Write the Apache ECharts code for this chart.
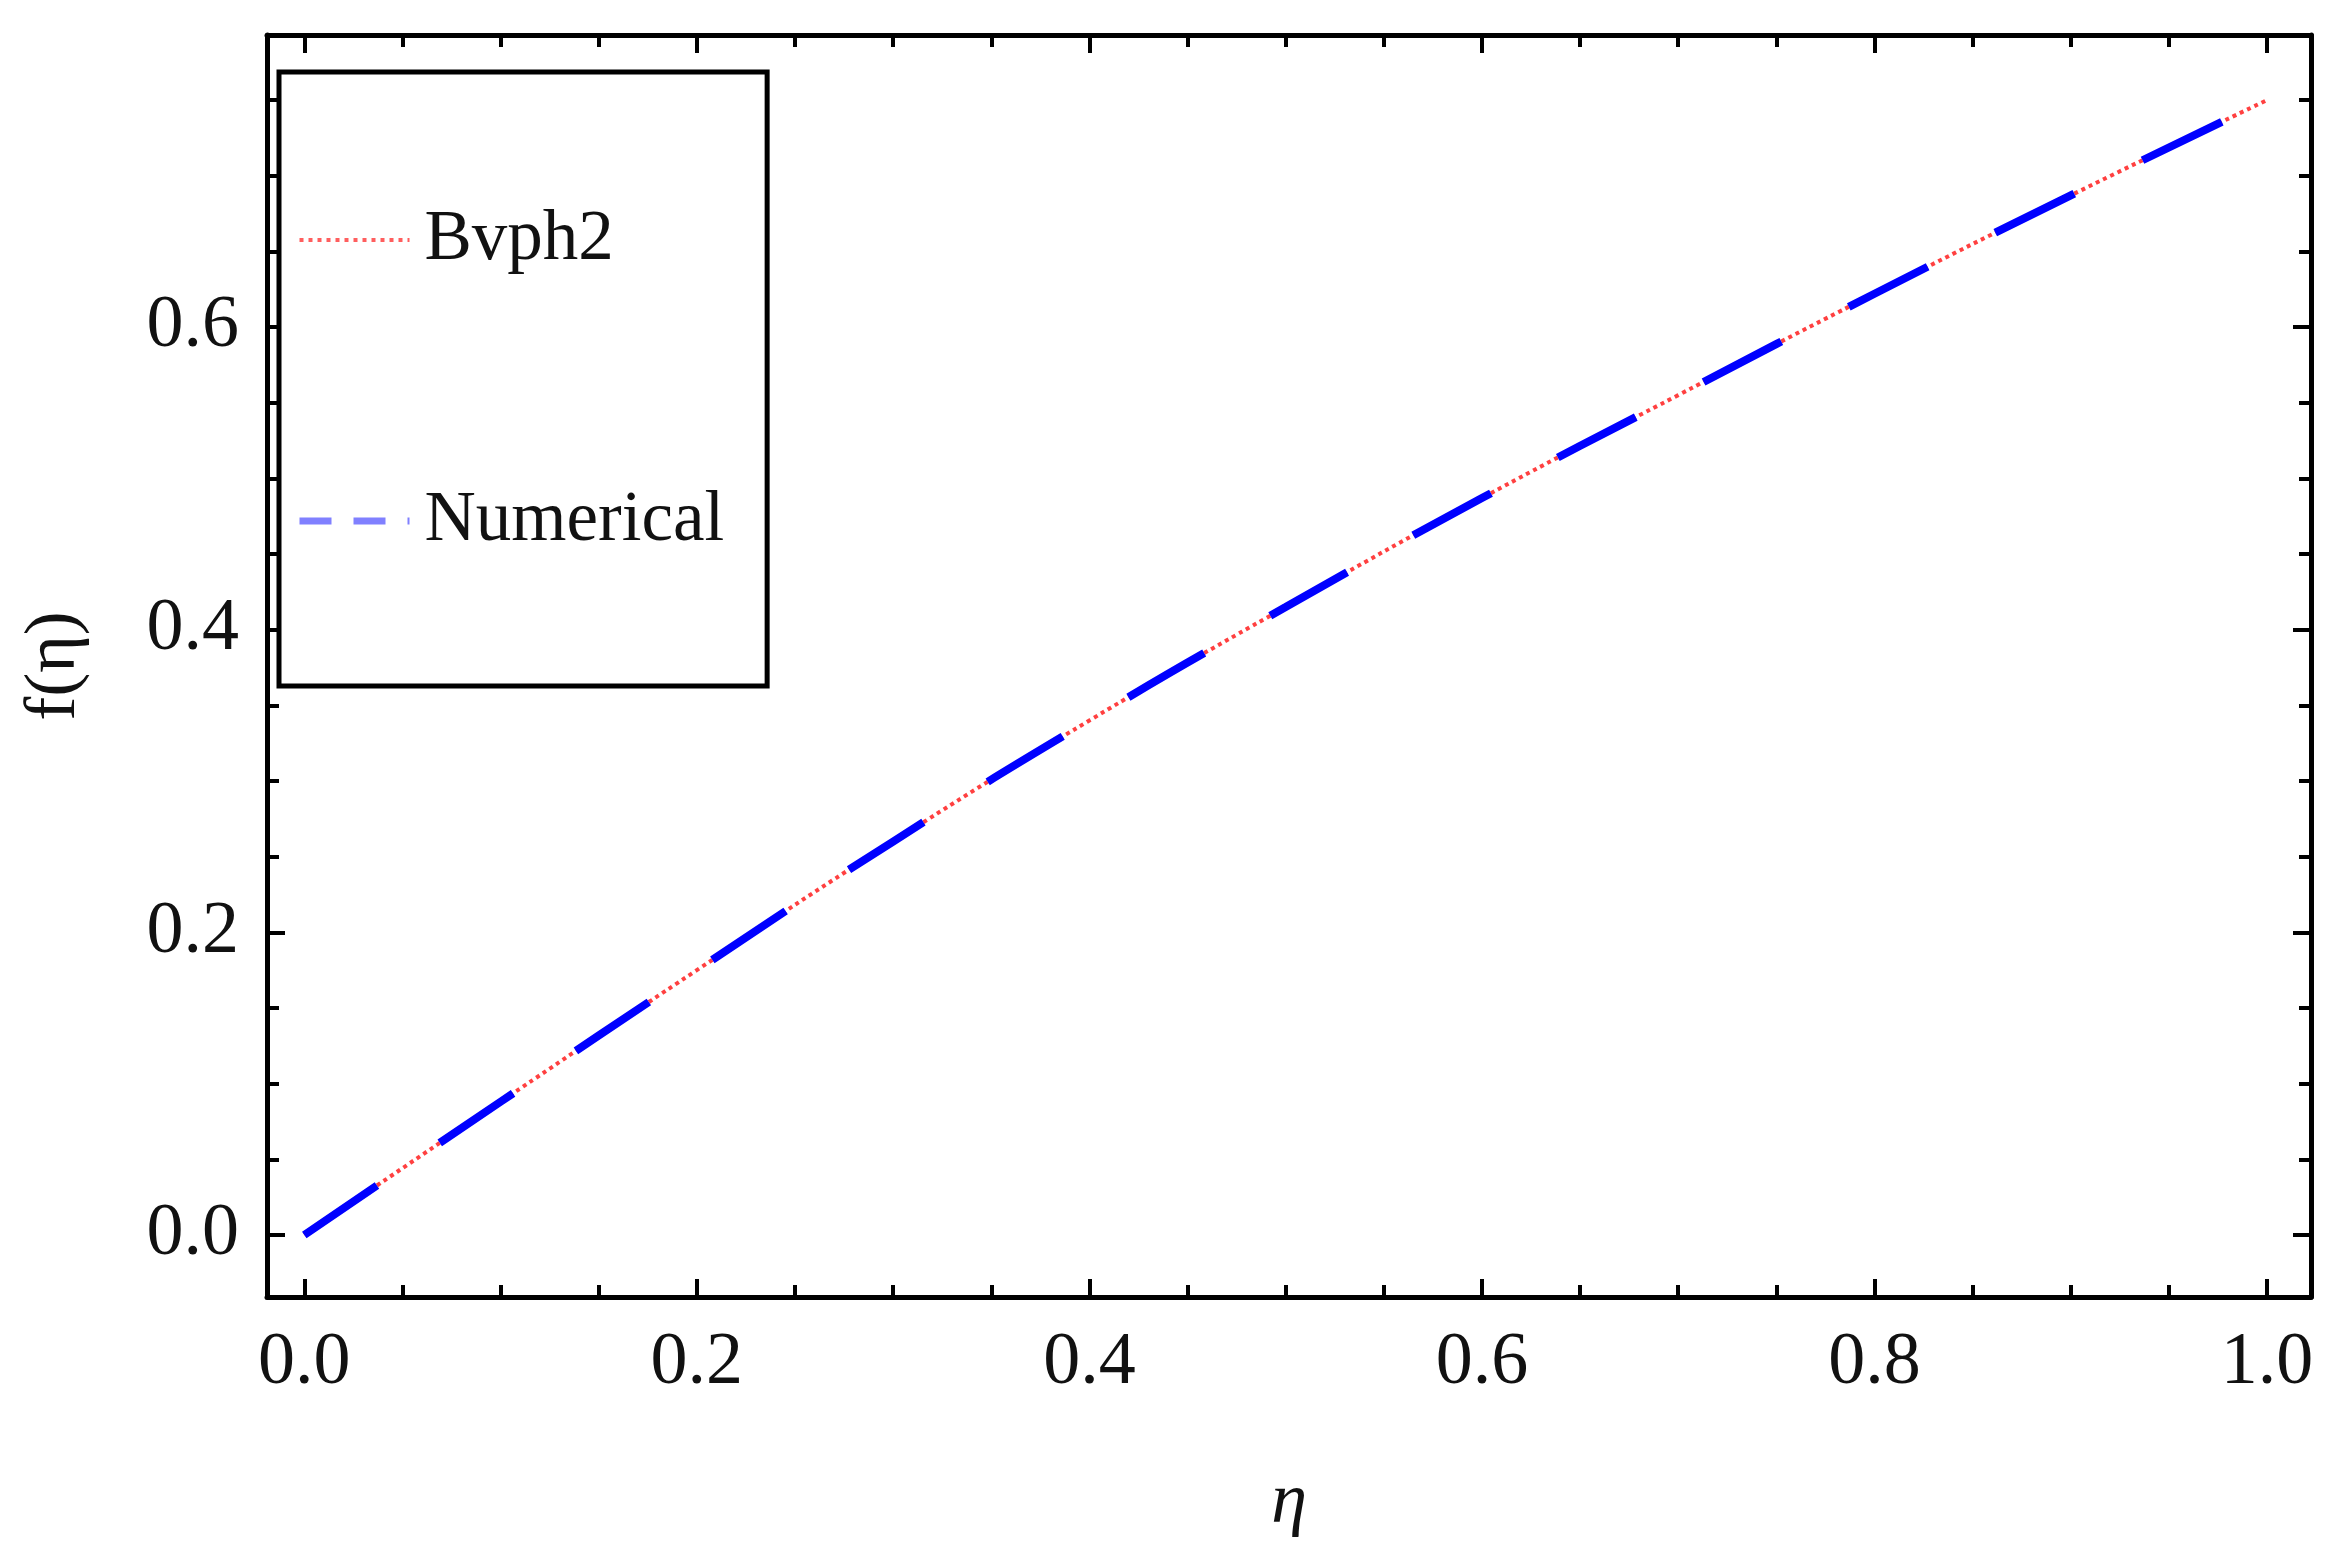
<!DOCTYPE html>
<html>
<head>
<meta charset="utf-8">
<script src="https://cdn.jsdelivr.net/npm/echarts@6/dist/echarts.min.js"></script>
<style>
html,body{margin:0;padding:0;background:#fff;}
#chart{width:2351px;height:1568px;}
</style>
</head>
<body>
<div id="chart"></div>
<script>
// ---- data ----
const eta = [0, 0.1, 0.2, 0.3, 0.4, 0.5, 0.6, 0.7, 0.8, 0.9, 1.0];
const bvph2 = [0, 0.088, 0.175, 0.260, 0.340, 0.415, 0.487, 0.555, 0.622, 0.687, 0.750];
const numerical = [0, 0.088, 0.175, 0.260, 0.340, 0.415, 0.487, 0.555, 0.622, 0.687, 0.750];
const xMajorTicks = [0.0, 0.2, 0.4, 0.6, 0.8, 1.0];
const xMinorTicks = [0.05, 0.1, 0.15, 0.25, 0.3, 0.35, 0.45, 0.5, 0.55, 0.65, 0.7, 0.75, 0.85, 0.9, 0.95];
const yMajorTicks = [0.0, 0.2, 0.4, 0.6];
const yMinorTicks = [0.05, 0.1, 0.15, 0.25, 0.3, 0.35, 0.45, 0.5, 0.55, 0.65, 0.7, 0.75];
const seriesNames = ['Bvph2', 'Numerical'];
const xTitle = 'η';
const yTitle = 'f(η)';

const FONT = 'Liberation Serif';
const X_MIN = -0.019, X_MAX = 1.0224;
const Y_MIN = -0.041, Y_MAX = 0.793;

function pairs(xs, ys) { return xs.map((x, i) => [x, ys[i]]); }

function xAxisDef(pos, ticks, len, withLabels, withLine) {
  return {
    type: 'value', position: pos, min: X_MIN, max: X_MAX,
    splitLine: { show: false },
    axisLine: { show: withLine, onZero: false, lineStyle: { color: '#000', width: 5 } },
    axisTick: { show: true, inside: true, length: len, customValues: ticks,
                lineStyle: { color: '#000', width: 4 } },
    axisLabel: { show: withLabels, customValues: ticks, margin: 30,
                 formatter: v => v.toFixed(1),
                 fontFamily: FONT, fontSize: 74, color: '#111' },
    name: withLabels ? xTitle : '',
    nameLocation: 'middle', nameGap: 170,
    nameTextStyle: { fontFamily: FONT, fontSize: 72, fontStyle: 'italic', color: '#111' }
  };
}
function yAxisDef(pos, ticks, len, withLabels, withLine) {
  return {
    type: 'value', position: pos, min: Y_MIN, max: Y_MAX,
    splitLine: { show: false },
    axisLine: { show: withLine, onZero: false, lineStyle: { color: '#000', width: 5 } },
    axisTick: { show: true, inside: true, length: len, customValues: ticks,
                lineStyle: { color: '#000', width: 4 } },
    axisLabel: { show: withLabels, customValues: ticks, margin: 28,
                 formatter: v => v.toFixed(1),
                 fontFamily: FONT, fontSize: 74, color: '#111' },
    name: withLabels ? yTitle : '',
    nameLocation: 'middle', nameGap: 176, nameRotate: 90,
    nameTextStyle: { fontFamily: FONT, fontSize: 72, color: '#111' }
  };
}

const chart = echarts.init(document.getElementById('chart'), null, { renderer: 'canvas' });
chart.setOption({
  backgroundColor: '#fff',
  animation: false,
  grid: { left: 267, top: 35, right: 40, bottom: 271, containLabel: false, outerBoundsMode: 'none' },
  xAxis: [
    xAxisDef('bottom', xMajorTicks, 18, true, true),
    xAxisDef('bottom', xMinorTicks, 12, false, false),
    xAxisDef('top', xMajorTicks, 18, false, true),
    xAxisDef('top', xMinorTicks, 12, false, false)
  ],
  yAxis: [
    yAxisDef('left', yMajorTicks, 18, true, true),
    yAxisDef('left', yMinorTicks, 12, false, false),
    yAxisDef('right', yMajorTicks, 18, false, true),
    yAxisDef('right', yMinorTicks, 12, false, false)
  ],
  legend: {
    show: true,
    left: 279, top: 72, orient: 'vertical',
    padding: [128, 43, 125, 17],
    itemGap: 201, itemWidth: 110, itemHeight: 20,
    borderColor: '#000', borderWidth: 5,
    backgroundColor: '#fff',
    textStyle: { fontFamily: FONT, fontSize: 71, color: '#111', lineHeight: 80, padding: [0, 0, 0, 10] },
    data: [
      { name: seriesNames[0],
        itemStyle: { opacity: 0 },
        lineStyle: { color: 'rgba(255,40,40,0.75)', type: [4, 5], width: 4 } },
      { name: seriesNames[1],
        itemStyle: { opacity: 0 },
        lineStyle: { color: '#8080ff', type: [32, 22], width: 7 } }
    ]
  },
  series: [
    { name: seriesNames[0], type: 'line', xAxisIndex: 0, yAxisIndex: 0,
      data: pairs(eta, bvph2), smooth: true, showSymbol: false, symbol: 'none',
      itemStyle: { color: '#ff2020' },
      lineStyle: { color: 'rgba(255,30,30,0.85)', width: 4, type: [4, 4] }, z: 3 },
    { name: seriesNames[1], type: 'line', xAxisIndex: 0, yAxisIndex: 0,
      data: pairs(eta, numerical), smooth: true, showSymbol: false, symbol: 'none',
      itemStyle: { color: '#0000ff' },
      lineStyle: { color: '#0000ff', width: 8, type: [88, 76], cap: 'butt' }, z: 4 }
  ]
});
</script>
</body>
</html>
